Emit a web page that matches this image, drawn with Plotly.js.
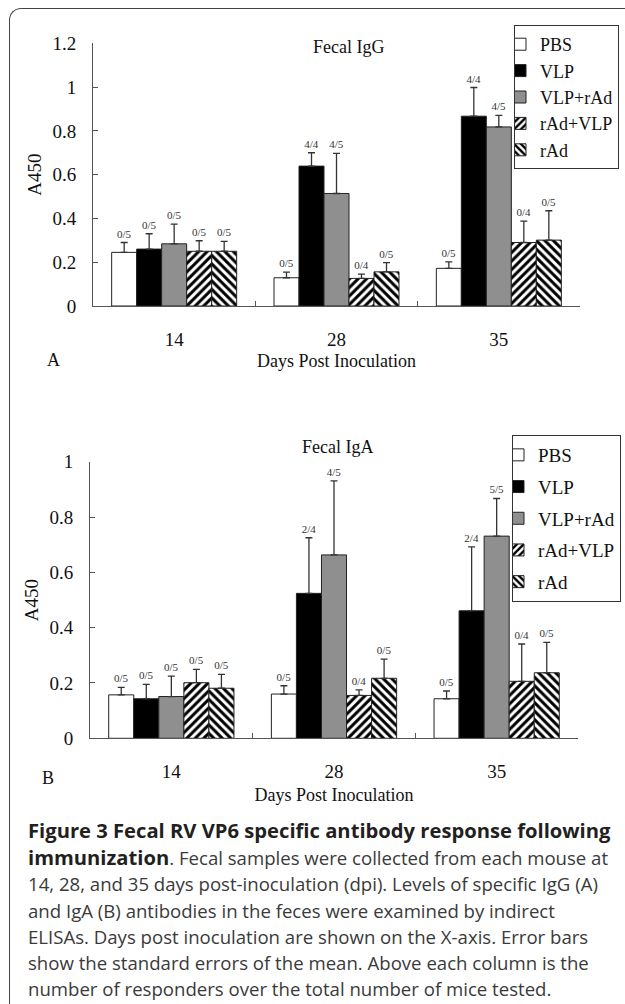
<!DOCTYPE html>
<html>
<head>
<meta charset="utf-8">
<script src="https://cdn.plot.ly/plotly-3.0.1.min.js"></script>
<style>
  html, body { margin:0; padding:0; background:#fff; }
  #wrap { position:relative; width:625px; height:1004px; overflow:hidden; }
  #frame { position:absolute; left:9px; top:8px; width:800px; height:1200px;
           border-left:1.3px solid #444; border-top:1.3px solid #444;
           border-top-left-radius:12px; box-sizing:border-box; }
  #chart { position:absolute; left:0; top:0; width:625px; height:1004px; }
  #caption { position:absolute; left:28px; top:817px; font-family:"Open Sans", sans-serif;
             font-size:18.6px; line-height:26.2px; color:#3a3a3a; white-space:nowrap; }
  #caption b { color:#231f20; font-size:20.2px; }
</style>
</head>
<body>
<div id="wrap">
  <div id="frame"></div>
  <div id="chart"></div>
  <div id="caption">
    <b>Figure 3 Fecal RV VP6 specific antibody response following</b><br>
    <b>immunization</b>. Fecal samples were collected from each mouse at<br>
    14, 28, and 35 days post-inoculation (dpi). Levels of specific IgG (A)<br>
    and IgA (B) antibodies in the feces were examined by indirect<br>
    ELISAs. Days post inoculation are shown on the X-axis. Error bars<br>
    show the standard errors of the mean. Above each column is the<br>
    number of responders over the total number of mice tested.
  </div>
</div>
<script>
// ---------- data ----------
const days = ['14', '28', '35'];
const groups = ['PBS', 'VLP', 'VLP+rAd', 'rAd+VLP', 'rAd'];

// Fecal IgG (A450 means)
const iggPBS    = [0.245, 0.129, 0.172];
const iggVLP    = [0.260, 0.639, 0.867];
const iggVLPrAd = [0.284, 0.514, 0.818];
const iggrAdVLP = [0.250, 0.126, 0.290];
const iggrAd    = [0.250, 0.156, 0.301];
// Fecal IgG standard errors
const iggPBSse    = [0.045, 0.026, 0.030];
const iggVLPse    = [0.070, 0.061, 0.131];
const iggVLPrAdse = [0.090, 0.183, 0.053];
const iggrAdVLPse = [0.048, 0.020, 0.098];
const iggrAdse    = [0.045, 0.042, 0.134];
// Fecal IgG responders
const iggPBSn    = ['0/5', '0/5', '0/5'];
const iggVLPn    = ['0/5', '4/4', '4/4'];
const iggVLPrAdn = ['0/5', '4/5', '4/5'];
const iggrAdVLPn = ['0/5', '0/4', '0/4'];
const iggrAdn    = ['0/5', '0/5', '0/5'];

// Fecal IgA (A450 means)
const igaPBS    = [0.157, 0.160, 0.143];
const igaVLP    = [0.143, 0.524, 0.461];
const igaVLPrAd = [0.151, 0.663, 0.731];
const igarAdVLP = [0.201, 0.155, 0.206];
const igarAd    = [0.181, 0.217, 0.237];
// Fecal IgA standard errors
const igaPBSse    = [0.027, 0.030, 0.028];
const igaVLPse    = [0.052, 0.201, 0.231];
const igaVLPrAdse = [0.074, 0.268, 0.136];
const igarAdVLPse = [0.048, 0.020, 0.135];
const igarAdse    = [0.050, 0.069, 0.110];
// Fecal IgA responders
const igaPBSn    = ['0/5', '0/5', '0/5'];
const igaVLPn    = ['0/5', '2/4', '2/4'];
const igaVLPrAdn = ['0/5', '4/5', '5/5'];
const igarAdVLPn = ['0/5', '0/4', '0/4'];
const igarAdn    = ['0/5', '0/5', '0/5'];

// ---------- styles ----------
const FONT = '"Liberation Serif", "Times New Roman", serif';
const styles = [
  {color:'#ffffff'},
  {color:'#000000'},
  {color:'#8f8f8f'},
  {color:'#ffffff', pattern:{shape:'/', size:6, solidity:0.5, fgcolor:'#000', bgcolor:'#fff', fillmode:'replace'}},
  {color:'#ffffff', pattern:{shape:'\\', size:6, solidity:0.5, fgcolor:'#000', bgcolor:'#fff', fillmode:'replace'}}
];

const iggMeans = [iggPBS, iggVLP, iggVLPrAd, iggrAdVLP, iggrAd];
const iggSE    = [iggPBSse, iggVLPse, iggVLPrAdse, iggrAdVLPse, iggrAdse];
const iggN     = [iggPBSn, iggVLPn, iggVLPrAdn, iggrAdVLPn, iggrAdn];
const igaMeans = [igaPBS, igaVLP, igaVLPrAd, igarAdVLP, igarAd];
const igaSE    = [igaPBSse, igaVLPse, igaVLPrAdse, igarAdVLPse, igarAdse];
const igaN     = [igaPBSn, igaVLPn, igaVLPrAdn, igarAdVLPn, igarAdn];

const traces = [];
function addPanel(means, ses, labels, xa, ya, leg, grpPrefix) {
  // label carriers (transparent bars up to the error-bar tip)
  groups.forEach((g, i) => {
    traces.push({
      type:'bar', x:days, y:means[i].map((v, k) => v + ses[i][k]),
      xaxis:xa, yaxis:ya, offsetgroup:String(i),
      marker:{color:'rgba(0,0,0,0)', line:{width:0}},
      text:labels[i], textposition:'outside', cliponaxis:false,
      textfont:{family:FONT, size:11, color:'#333'},
      hoverinfo:'skip', showlegend:false
    });
  });
  groups.forEach((g, i) => {
    const mk = {color:styles[i].color, line:{color:'#222', width:1}};
    if (styles[i].pattern) mk.pattern = styles[i].pattern;
    traces.push({
      type:'bar', name:g, x:days, y:means[i], xaxis:xa, yaxis:ya,
      offsetgroup:String(i), legend:leg, legendgroup:grpPrefix + i,
      marker:mk,
      error_y:{type:'data', symmetric:false, array:ses[i], arrayminus:ses[i].map(() => 0),
               color:'#333', thickness:1.3, width:3.5}
    });
  });
}
addPanel(iggMeans, iggSE, iggN, 'x', 'y', 'legend', 'a');
addPanel(igaMeans, igaSE, igaN, 'x2', 'y2', 'legend2', 'b');

const W = 625, H = 1004;
const axisCommon = {
  showline:true, linecolor:'#555', linewidth:1, ticks:'inside', ticklen:5, tickcolor:'#555',
  showgrid:false, zeroline:false, tickfont:{family:FONT, size:19, color:'#111'}
};
const layout = {
  width:W, height:H, margin:{l:0, r:0, t:0, b:0},
  paper_bgcolor:'rgba(0,0,0,0)', plot_bgcolor:'rgba(0,0,0,0)',
  barmode:'group', bargap:0.23, bargroupgap:0,
  font:{family:FONT, color:'#111'},
  xaxis:Object.assign({}, axisCommon, {
    domain:[93/W, 580/W], anchor:'y', type:'category', tickson:'boundaries', ticklabelstandoff:16,
    title:{text:'Days Post Inoculation', font:{family:FONT, size:18, color:'#111'}, standoff:5}
  }),
  yaxis:Object.assign({}, axisCommon, {
    domain:[1 - 306/H, 1 - 43.3/H], anchor:'x', range:[0, 1.2], dtick:0.2, ticklabelstandoff:12,
    title:{text:'A450', font:{family:FONT, size:19, color:'#111'}, standoff:5}
  }),
  xaxis2:Object.assign({}, axisCommon, {
    domain:[90/W, 578/W], anchor:'y2', type:'category', tickson:'boundaries', ticklabelstandoff:16,
    title:{text:'Days Post Inoculation', font:{family:FONT, size:18, color:'#111'}, standoff:7}
  }),
  yaxis2:Object.assign({}, axisCommon, {
    domain:[1 - 738.3/H, 1 - 461.7/H], anchor:'x2', range:[0, 1], dtick:0.2, ticklabelstandoff:12,
    title:{text:'A450', font:{family:FONT, size:19, color:'#111'}, standoff:5}
  }),
  legend:{x:619/W, xanchor:'right', y:1 - 25/H, yanchor:'top', bgcolor:'#fff',
          bordercolor:'#333', borderwidth:1, indentation:-15, tracegroupgap:0, traceorder:'grouped',
          font:{family:FONT, size:18, color:'#111'}},
  legend2:{x:621/W, xanchor:'right', y:1 - 435/H, yanchor:'top', bgcolor:'#fff',
          bordercolor:'#333', borderwidth:1, indentation:-15, tracegroupgap:4, traceorder:'grouped',
          font:{family:FONT, size:19, color:'#111'}},
  annotations:[
    {text:'Fecal IgG', xref:'paper', yref:'paper', x:348/W, y:1 - 35/H, showarrow:false,
     font:{family:FONT, size:18, color:'#111'}},
    {text:'Fecal IgA', xref:'paper', yref:'paper', x:338/W, y:1 - 447/H, showarrow:false,
     font:{family:FONT, size:18, color:'#111'}},
    {text:'A', xref:'paper', yref:'paper', x:45/W, y:1 - 360/H, showarrow:false,
     font:{family:FONT, size:18, color:'#111'}},
    {text:'B', xref:'paper', yref:'paper', x:40/W, y:1 - 790/H, showarrow:false,
     font:{family:FONT, size:18, color:'#111'}}
  ],
  showlegend:true
};
Plotly.newPlot('chart', traces, layout, {staticPlot:true, displayModeBar:false});
</script>
</body>
</html>
